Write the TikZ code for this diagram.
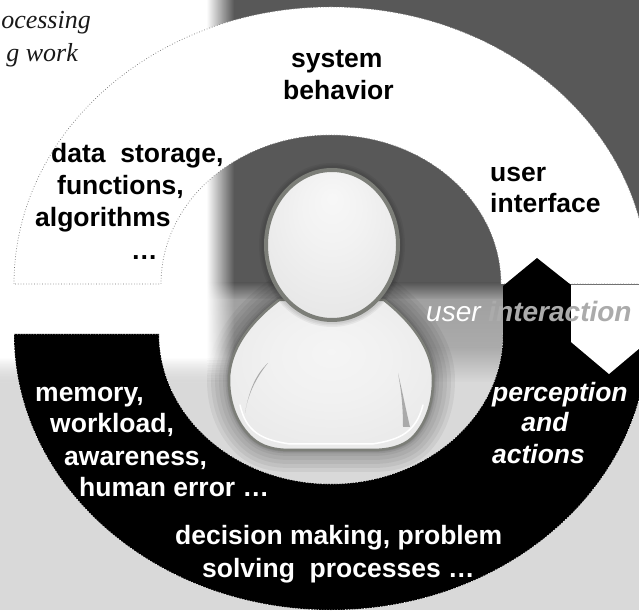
\documentclass[tikz,border=0pt]{standalone}
\usepackage{fontspec}
\setmainfont{Liberation Sans}
\newfontfamily\timesfont{Liberation Serif}
\usetikzlibrary{fadings}
\definecolor{bgdark}{HTML}{585858}
\definecolor{bgmid}{HTML}{A0A0A0}
\definecolor{bgmidb}{HTML}{ABABAB}
\definecolor{bglight}{HTML}{D9D9D9}
\definecolor{edgegray}{HTML}{7C7E78}
\tikzfading[name=fadeeast, left color=transparent!0, right color=transparent!100]
\tikzfading[name=fadesouth, top color=transparent!0, bottom color=transparent!100]
\pgfdeclareradialshading{headshade}{\pgfpoint{0bp}{16bp}}{color(0bp)=(white!94!gray); color(12bp)=(white!90!gray); color(38bp)=(white!78!gray); color(50bp)=(white!75!gray)}
\pgfdeclareradialshading{bodyshade}{\pgfpoint{0bp}{8bp}}{color(0bp)=(white!92!gray); color(14bp)=(white!89!gray); color(40bp)=(white!80!gray); color(50bp)=(white!80!gray)}
\tikzset{
  lab/.style={inner sep=0pt, anchor=base west, font=\fontsize{26.5}{26.5}\selectfont\bfseries},
  labw/.style={lab, text=white},
  labi/.style={labw, font=\fontsize{26.5}{26.5}\selectfont\bfseries\itshape},
  captxt/.style={inner sep=0pt, anchor=base east, text=black!90, font=\timesfont\fontsize{26}{26}\selectfont\itshape},
  upring/.style={fill=white, draw=black!55, line width=0.7pt, dotted},
  lowring/.style={fill=black, draw=white, line width=0.7pt, dotted},
}
\newcommand{\bodyoutline}{(279,310) .. controls (250,288) and (229,260) .. (229,230) .. controls (229,205) and (238,185) .. (252,172) .. controls (262,163) and (275,160) .. (290,160) -- (372,160) .. controls (388,160) and (402,163) .. (412,172) .. controls (425,185) and (433,205) .. (433,230) .. controls (433,260) and (412,288) .. (384,310) -- cycle}
\begin{document}
\begin{tikzpicture}[x=1pt,y=1pt]
\useasboundingbox (0,0) rectangle (639,610);
\clip (0,0) rectangle (639,610);
% background bands
\fill[bgdark] (0,326) rectangle (639,610);
\shade[top color=bgdark, bottom color=bgmid] (0,310) rectangle (639,327);
\shade[top color=bgmid, bottom color=bgmidb] (0,262) rectangle (639,310.5);
\shade[top color=bgmidb, bottom color=bglight] (0,227) rectangle (639,262.5);
\fill[bglight] (0,0) rectangle (639,227.5);
% person shadow on the background
\foreach \w in {44,36,28,20,12}{
  \draw[black, opacity=0.055, line width=\w pt, line join=round] \bodyoutline;
}
% white left field and its blurred edges
\fill[white] (0,252) rectangle (207,610);
\fill[white, path fading=fadeeast] (206.5,252) rectangle (234,610);
\fill[white, path fading=fadesouth] (0,227) rectangle (207,252.5);
\foreach \k in {0,...,9}{
  \fill[white, opacity={0.95-0.1*\k}, path fading=fadeeast] (206.5,{252-2.5*\k}) rectangle (234,{249.5-2.5*\k});
}
% rings
\path[lowring] (14,276) arc[start angle=180, end angle=360, x radius=317pt, y radius=276pt] -- (503,276) arc[start angle=0, end angle=-180, x radius=172pt, y radius=150pt] -- cycle;
\path[upring] (14,326) arc[start angle=180, end angle=0, x radius=317pt, y radius=277pt] -- (501,326) arc[start angle=0, end angle=180, x radius=170pt, y radius=149pt] -- cycle;
% arrows
\fill[black] (503,324) -- (537,352) -- (571,325) -- (571,270) -- (503,270) -- cycle;
\fill[white] (571,325) -- (650,325) -- (650,268) -- (647,268) -- (609,236) -- (571,268) -- cycle;
% person: body
\foreach \w in {7,4}{
  \draw[black, opacity=0.08, line width=\w pt, line join=round] \bodyoutline;
}
\path[draw=edgegray, line width=2.5pt, line join=round, shading=bodyshade] \bodyoutline;
\draw[white, line width=1.5pt, line cap=round] (240,205) .. controls (246,178) and (262,170) .. (290,166) -- (372,166) .. controls (400,170) and (416,178) .. (423,205);
\fill[black!55, opacity=0.55] (268,247) .. controls (256,236) and (249,220) .. (245,197) .. controls (248,216) and (256,232) .. (268,247) -- cycle;
\fill[black!55, opacity=0.55] (398,237) .. controls (402,220) and (406,200) .. (410,183) -- (403,183) .. controls (403,205) and (401,220) .. (398,237) -- cycle;
% person: head
\foreach \w in {12,9,6}{
  \draw[black, opacity=0.05, line width=\w pt] (332,365) ellipse [x radius=67pt, y radius=76pt];
}
\path[draw=edgegray, line width=4pt, shading=headshade] (332,365) ellipse [x radius=66pt, y radius=75pt];
% labels
\node[lab] (sys1) at (291,542) {system};
\node[lab] (sys2) at (283,510) {behavior};
\node[lab] (ds1) at (51,447) {data\ \ storage,};
\node[lab] (ds2) at (57,415) {functions,};
\node[lab] (ds3) at (35,383) {algorithms};
\node[lab] (ds4) at (131,350) {…};
\node[lab] (ui1) at (490,428) {user};
\node[lab] (ui2) at (490,397) {interface};
\node[inner sep=0pt, anchor=base west, font=\fontsize{28}{28}\selectfont\itshape] (inter) at (426,288) {\textcolor{white}{user }\textcolor{bgmidb}{\bfseries interaction}};
\node[labi] (pa1) at (492,208) {perception};
\node[labi, anchor=base] (pa2) at (545,178) {and};
\node[labi, anchor=base] (pa3) at (538.5,146) {actions};
\node[labw] (m1) at (35,208) {memory,};
\node[labw] (m2) at (50,177) {workload,};
\node[labw] (m3) at (64,144) {awareness,};
\node[labw] (m4) at (79,113) {human error …};
\node[labw] (d1) at (175,66) {decision making, problem};
\node[labw] (d2) at (202,33) {solving\ \ processes …};
\node[captxt] (c1) at (91,581) {ocessing};
\node[captxt] (c2) at (78,548) {g work};
\end{tikzpicture}
\end{document}
